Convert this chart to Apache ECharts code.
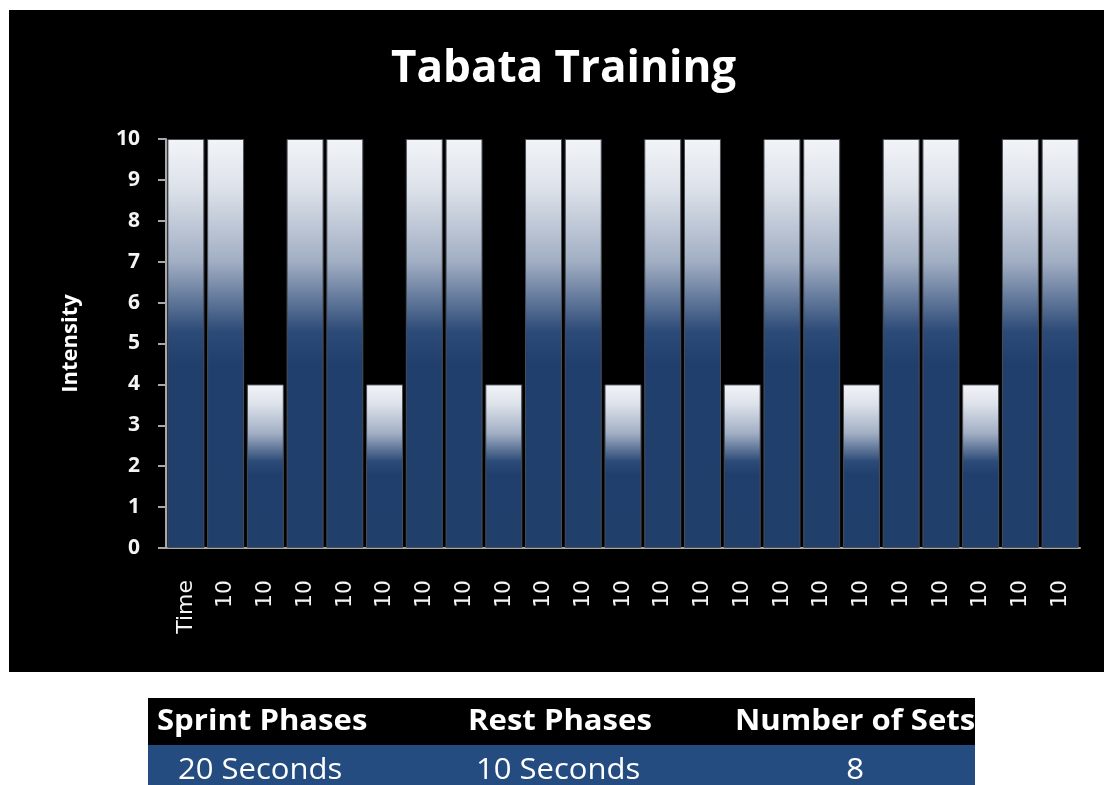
<!DOCTYPE html>
<html>
<head>
<meta charset="utf-8">
<title>Tabata Training</title>
<script src="https://cdn.jsdelivr.net/npm/echarts@6/dist/echarts.min.js"></script>
<style>
  html, body { margin: 0; padding: 0; background: #fff; }
  #chart { width: 1104px; height: 785px; }
</style>
</head>
<body>
<div id="chart"></div>
<script>
  // data
  var categories = ['Time', '10', '10', '10', '10', '10', '10', '10', '10', '10', '10', '10',
    '10', '10', '10', '10', '10', '10', '10', '10', '10', '10', '10'];
  var intensity = [10, 10, 4, 10, 10, 4, 10, 10, 4, 10, 10, 4, 10, 10, 4, 10, 10, 4, 10, 10, 4, 10, 10];
  var yTicks = [0, 1, 2, 3, 4, 5, 6, 7, 8, 9, 10];
  var tableHeaders = ['Sprint Phases', 'Rest Phases', 'Number of Sets'];
  var tableRow = ['20 Seconds', '10 Seconds', '8'];

  var chart = echarts.init(document.getElementById('chart'));

  // bar fill: white at the top fading into navy
  var barFill = new echarts.graphic.LinearGradient(0, 0, 0, 1, [
    { offset: 0, color: '#f2f4f8' },
    { offset: 0.12, color: '#dde2ea' },
    { offset: 0.3, color: '#a1aec3' },
    { offset: 0.47, color: '#2d4b78' },
    { offset: 0.55, color: '#213f6c' },
    { offset: 1, color: '#213f6b' }
  ]);

  var headFont = 'bold 28px "Open Sans"';
  var rowFont = '29px "Open Sans"';

  chart.setOption({
    backgroundColor: '#ffffff',
    animation: false,
    title: {
      text: 'Tabata Training',
      left: 386,
      top: 42,
      textStyle: {
        color: '#ffffff',
        fontFamily: 'Open Sans',
        fontWeight: 'bold',
        fontSize: 44
      }
    },
    grid: {
      left: 166,
      right: 24,
      top: 139,
      bottom: 237
    },
    xAxis: {
      type: 'category',
      data: categories,
      axisLine: { lineStyle: { color: '#a8a8a8', width: 2 } },
      axisTick: { show: false },
      axisLabel: {
        rotate: 90,
        margin: 32,
        interval: 0,
        color: '#f4f4f4',
        fontFamily: 'DejaVu Sans',
        fontSize: 22
      }
    },
    yAxis: {
      type: 'value',
      min: yTicks[0],
      max: yTicks[yTicks.length - 1],
      interval: 1,
      name: 'Intensity',
      nameLocation: 'middle',
      nameRotate: 90,
      nameGap: 84,
      nameTextStyle: {
        color: '#ffffff',
        fontFamily: 'Open Sans',
        fontWeight: 'bold',
        fontSize: 22
      },
      axisLine: { show: true, lineStyle: { color: '#a8a8a8', width: 2 } },
      axisTick: { show: true, length: 8, lineStyle: { color: '#a8a8a8', width: 2 } },
      splitLine: { show: false },
      axisLabel: {
        margin: 26,
        color: '#f4f4f4',
        fontFamily: 'Open Sans',
        fontWeight: 'bold',
        fontSize: 21
      }
    },
    series: [{
      type: 'bar',
      data: intensity,
      barCategoryGap: '7%',
      itemStyle: {
        color: barFill,
        borderColor: '#4a4f58',
        borderWidth: 1
      }
    }],
    graphic: [
      // black chart area
      {
        type: 'rect', z: -10, silent: true,
        shape: { x: 9, y: 10, width: 1095, height: 662 },
        style: { fill: '#000000' }
      },
      // table under the chart
      {
        type: 'rect', silent: true,
        shape: { x: 148, y: 698, width: 827, height: 47 },
        style: { fill: '#000000' }
      },
      {
        type: 'rect', silent: true,
        shape: { x: 148, y: 745, width: 827, height: 40 },
        style: { fill: '#244c80' }
      },
      {
        type: 'text', silent: true, x: 157, y: 722, scaleX: 1.11,
        style: { text: tableHeaders[0], fill: '#ffffff', font: headFont, verticalAlign: 'middle' }
      },
      {
        type: 'text', silent: true, x: 468, y: 722, scaleX: 1.11,
        style: { text: tableHeaders[1], fill: '#ffffff', font: headFont, verticalAlign: 'middle' }
      },
      {
        type: 'text', silent: true, x: 735, y: 722, z: 1, scaleX: 1.11,
        style: { text: tableHeaders[2], fill: '#ffffff', font: headFont, verticalAlign: 'middle' }
      },
      {
        type: 'text', silent: true, x: 178, y: 771, scaleX: 1.07,
        style: { text: tableRow[0], fill: '#ffffff', font: rowFont, verticalAlign: 'middle' }
      },
      {
        type: 'text', silent: true, x: 476, y: 771, scaleX: 1.07,
        style: { text: tableRow[1], fill: '#ffffff', font: rowFont, verticalAlign: 'middle' }
      },
      {
        type: 'text', silent: true, x: 855, y: 771, scaleX: 1.07,
        style: { text: tableRow[2], fill: '#ffffff', font: rowFont, align: 'center', verticalAlign: 'middle' }
      },
      // the table is cut off on the right
      {
        type: 'rect', silent: true, z: 10,
        shape: { x: 975, y: 690, width: 129, height: 95 },
        style: { fill: '#ffffff' }
      }
    ]
  });
</script>
</body>
</html>
